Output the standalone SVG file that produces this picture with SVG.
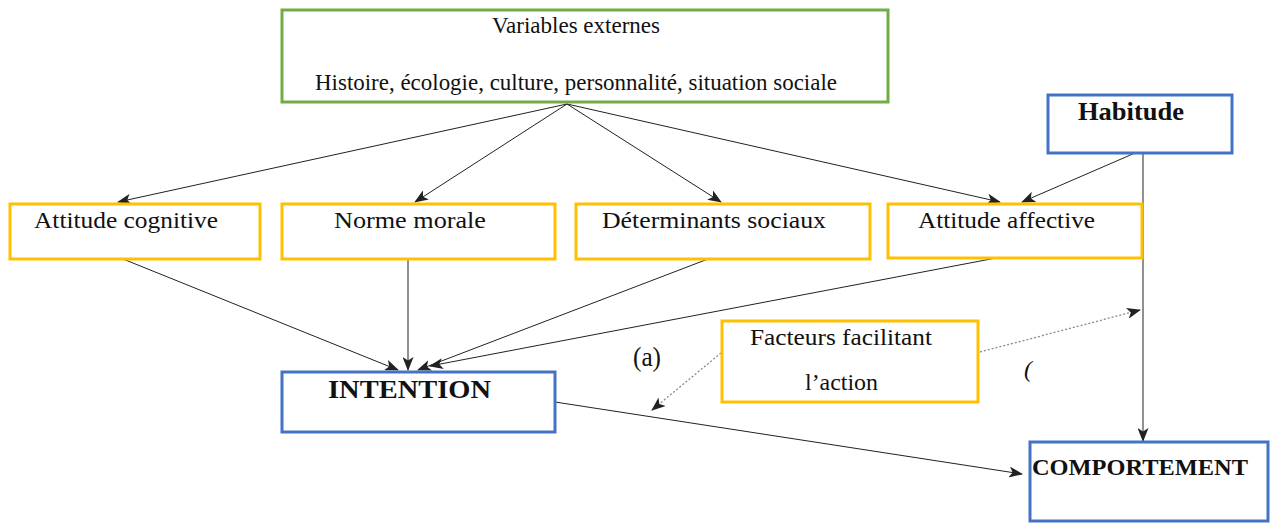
<svg xmlns="http://www.w3.org/2000/svg" width="1275" height="523" viewBox="0 0 1275 523">
<style>
.t{font-family:"Liberation Serif","Times New Roman",serif;font-size:24px;fill:#111}
.b{font-family:"Liberation Serif","Times New Roman",serif;font-size:25px;font-weight:bold;fill:#111}
.g{fill:#fff;stroke:#70AD47;stroke-width:3}
.y{fill:#fff;stroke:#FFC000;stroke-width:3}
.bl{fill:#fff;stroke:#4472C4;stroke-width:3}
.c{stroke:#222;stroke-width:1;fill:none}
.d{stroke:#888;stroke-width:1.3;stroke-dasharray:2 2;fill:none}
</style>
<defs>
<marker id="ah" viewBox="0 0 14 11" refX="13" refY="5.5" markerWidth="14" markerHeight="11" markerUnits="userSpaceOnUse" orient="auto">
<path d="M0,0 L14,5.5 L0,11 L3.5,5.5 z" fill="#222"/>
</marker>
</defs>
<rect width="1275" height="523" fill="#fff"/>
<g id="connectors">
<line class="c" x1="567" y1="104" x2="118" y2="202" marker-end="url(#ah)"/>
<line class="c" x1="567" y1="104" x2="415" y2="202" marker-end="url(#ah)"/>
<line class="c" x1="567" y1="104" x2="721" y2="202" marker-end="url(#ah)"/>
<line class="c" x1="567" y1="104" x2="1000" y2="202" marker-end="url(#ah)"/>
<line class="c" x1="1135" y1="153" x2="1022" y2="202" marker-end="url(#ah)"/>
<line class="c" x1="1143" y1="153" x2="1143" y2="441" marker-end="url(#ah)"/>
<line class="c" x1="123" y1="259" x2="398" y2="370" marker-end="url(#ah)"/>
<line class="c" x1="408" y1="259" x2="408" y2="370" marker-end="url(#ah)"/>
<line class="c" x1="708" y1="259" x2="418" y2="370" marker-end="url(#ah)"/>
<line class="c" x1="996" y1="258" x2="430" y2="366" marker-end="url(#ah)"/>
<line class="c" x1="555" y1="402" x2="1022" y2="474" marker-end="url(#ah)"/>
<line class="d" x1="721" y1="353" x2="652" y2="410" marker-end="url(#ah)"/>
<line class="d" x1="980" y1="352" x2="1140" y2="310" marker-end="url(#ah)"/>
</g>
<g id="variables-externes">
<rect class="g" x="282" y="10" width="606" height="92"/>
<text class="t" x="492" y="33" textLength="168" lengthAdjust="spacingAndGlyphs">Variables externes</text>
<text class="t" x="315" y="90" textLength="522" lengthAdjust="spacingAndGlyphs">Histoire, écologie, culture, personnalité, situation sociale</text>
</g>
<g id="habitude">
<rect class="bl" x="1048" y="95" width="184" height="58"/>
<text class="b" x="1078" y="120" textLength="106" lengthAdjust="spacingAndGlyphs">Habitude</text>
</g>
<g id="attitude-cognitive">
<rect class="y" x="10" y="204" width="250" height="55"/>
<text class="t" x="34" y="228" textLength="184" lengthAdjust="spacingAndGlyphs">Attitude cognitive</text>
</g>
<g id="norme-morale">
<rect class="y" x="282" y="204" width="273" height="55"/>
<text class="t" x="334" y="228" textLength="152" lengthAdjust="spacingAndGlyphs">Norme morale</text>
</g>
<g id="determinants-sociaux">
<rect class="y" x="576" y="204" width="294" height="55"/>
<text class="t" x="602" y="228" textLength="224" lengthAdjust="spacingAndGlyphs">Déterminants sociaux</text>
</g>
<g id="attitude-affective">
<rect class="y" x="888" y="204" width="254" height="54"/>
<text class="t" x="918" y="228" textLength="177" lengthAdjust="spacingAndGlyphs">Attitude affective</text>
</g>
<g id="intention">
<rect class="bl" x="282" y="372" width="273" height="60"/>
<text class="b" x="328" y="398" textLength="163" lengthAdjust="spacingAndGlyphs">INTENTION</text>
</g>
<g id="facteurs">
<rect class="y" x="722" y="321" width="256" height="81"/>
<text class="t" x="750" y="345" textLength="182" lengthAdjust="spacingAndGlyphs">Facteurs facilitant</text>
<text class="t" x="805" y="390" textLength="73" lengthAdjust="spacingAndGlyphs">l’action</text>
</g>
<g id="comportement">
<rect class="bl" x="1030" y="442" width="238" height="79"/>
<text class="b" x="1032" y="475" textLength="216" lengthAdjust="spacingAndGlyphs" style="font-size:23px">COMPORTEMENT</text>
</g>
<text class="t" x="633" y="366" style="font-size:28px" textLength="28" lengthAdjust="spacingAndGlyphs">(a)</text>
<text class="t" x="1024" y="377" style="font-style:italic">(</text>
</svg>
